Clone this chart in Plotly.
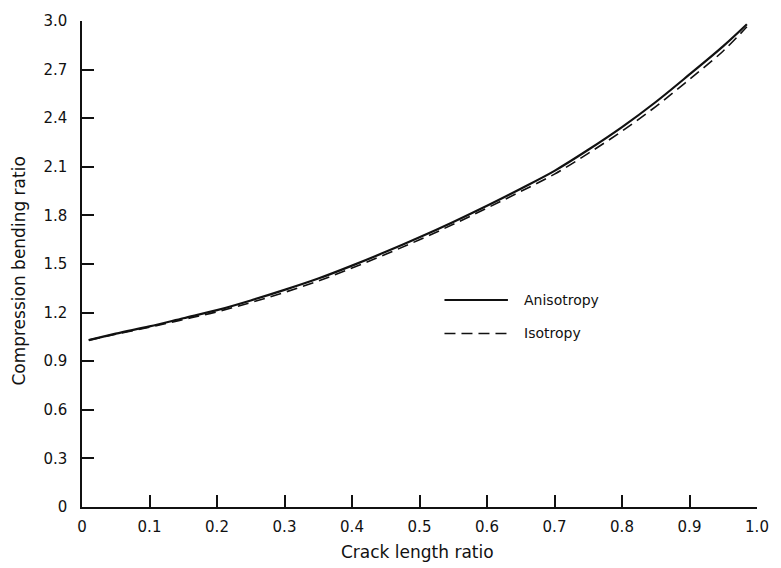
import plotly.graph_objects as go

# Data
crack_ratio = [0.01, 0.05, 0.1, 0.15, 0.2, 0.25, 0.3, 0.35, 0.4, 0.45, 0.5,
               0.55, 0.6, 0.65, 0.7, 0.75, 0.8, 0.85, 0.9, 0.95, 0.985]
anisotropy = [1.03, 1.07, 1.115, 1.165, 1.215, 1.275, 1.34, 1.41, 1.49, 1.575, 1.665,
              1.76, 1.86, 1.965, 2.075, 2.205, 2.345, 2.5, 2.67, 2.845, 2.98]
isotropy = [1.03, 1.067, 1.11, 1.157, 1.205, 1.262, 1.325, 1.395, 1.475, 1.56, 1.65,
            1.745, 1.845, 1.948, 2.055, 2.183, 2.32, 2.472, 2.64, 2.815, 2.965]

x_ticks = [0, 0.1, 0.2, 0.3, 0.4, 0.5, 0.6, 0.7, 0.8, 0.9, 1.0]
x_tick_labels = ["0", "0.1", "0.2", "0.3", "0.4", "0.5", "0.6", "0.7", "0.8", "0.9", "1.0"]
y_ticks = [0, 0.3, 0.6, 0.9, 1.2, 1.5, 1.8, 2.1, 2.4, 2.7, 3.0]
y_tick_labels = ["0", "0.3", "0.6", "0.9", "1.2", "1.5", "1.8", "2.1", "2.4", "2.7", "3.0"]

series_names = ["Anisotropy", "Isotropy"]

FONT = "DejaVu Sans"
INK = "#111111"

fig = go.Figure()
fig.add_trace(go.Scatter(x=crack_ratio, y=anisotropy, mode="lines", name=series_names[0],
                         line=dict(color=INK, width=2.2, shape="spline"), showlegend=False))
fig.add_trace(go.Scatter(x=crack_ratio, y=isotropy, mode="lines", name=series_names[1],
                         line=dict(color=INK, width=1.6, dash="11px,6px", shape="spline"),
                         showlegend=False))

# Hand-drawn style legend (inside the plot)
leg_x0, leg_x1, leg_tx = 0.537, 0.631, 0.652
leg_y = [0.426, 0.357]
fig.add_shape(type="line", xref="paper", yref="paper", x0=leg_x0, x1=leg_x1, y0=leg_y[0], y1=leg_y[0],
              line=dict(color=INK, width=2))
fig.add_shape(type="line", xref="paper", yref="paper", x0=leg_x0, x1=leg_x1, y0=leg_y[1], y1=leg_y[1],
              line=dict(color=INK, width=1.6, dash="11px,6px"))
for name, yy in zip(series_names, leg_y):
    fig.add_annotation(xref="paper", yref="paper", x=leg_tx, y=yy, text=name, showarrow=False,
                       xanchor="left", yanchor="middle", font=dict(family=FONT, size=14, color=INK))

# Axis titles
fig.add_annotation(xref="paper", yref="paper", x=0.497, y=-0.092, text="Crack length ratio",
                   showarrow=False, xanchor="center", yanchor="middle",
                   font=dict(family=FONT, size=17, color=INK))
fig.add_annotation(xref="paper", yref="paper", x=-0.0936, y=0.486, text="Compression bending ratio",
                   showarrow=False, xanchor="center", yanchor="middle", textangle=-90,
                   font=dict(family=FONT, size=17, color=INK))

axis_common = dict(showline=True, linecolor=INK, linewidth=1.5, ticks="inside", ticklen=12,
                   tickwidth=1.5, tickcolor=INK, showgrid=False, zeroline=False, mirror=False,
                   tickfont=dict(family=FONT, size=15, color=INK))

fig.update_layout(
    width=781, height=568,
    margin=dict(l=82, r=15, t=14, b=61),
    paper_bgcolor="white", plot_bgcolor="white",
    xaxis=dict(range=[0, 1.0], tickvals=x_ticks, ticktext=x_tick_labels,
               ticklabelstandoff=5, **axis_common),
    yaxis=dict(range=[0, 3.0], tickvals=y_ticks, ticktext=y_tick_labels,
               ticklabelstandoff=10, **axis_common),
)

fig.write_html("out.html")
